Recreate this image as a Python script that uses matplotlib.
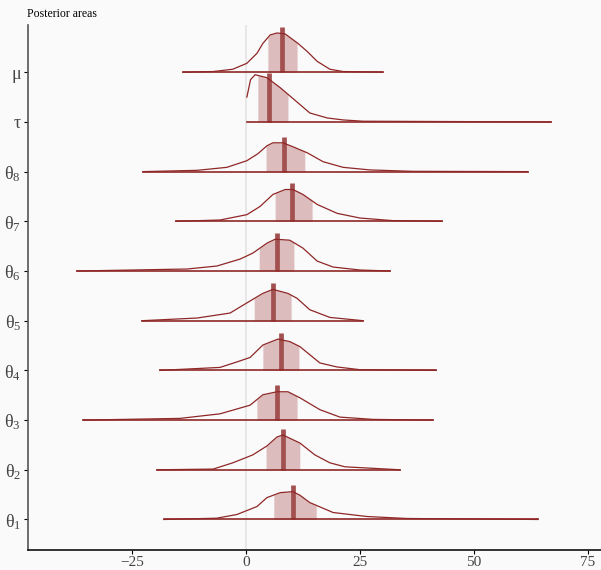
import numpy as np
import matplotlib
matplotlib.use("Agg")
import matplotlib.pyplot as plt

plt.rcParams['font.family'] = ['Liberation Serif', 'DejaVu Serif']
plt.rcParams['mathtext.fontset'] = 'custom'
plt.rcParams['mathtext.rm'] = 'Liberation Serif'
plt.rcParams['mathtext.default'] = 'rm'
plt.rcParams['axes.unicode_minus'] = True

# parameter labels, bottom to top
labels = ['θ$_1$', 'θ$_2$', 'θ$_3$', 'θ$_4$', 'θ$_5$', 'θ$_6$', 'θ$_7$', 'θ$_8$', 'τ', 'μ']

# density curves (x, scaled height)
x_th1 = [-18.0, -6.4, -2.0, 2.4, 4.6, 7.5, 10.3, 11.8, 14.0, 19.1, 26.5, 35.3, 64.0]
d_th1 = [0, 0.026, 0.10, 0.26, 0.44, 0.54, 0.56, 0.49, 0.34, 0.14, 0.06, 0.02, 0]
x_th2 = [-19.5, -7.2, -2.9, 1.5, 4.6, 6.8, 8.1, 11.8, 15.1, 18.4, 21.7, 33.8]
d_th2 = [0, 0.014, 0.14, 0.30, 0.48, 0.66, 0.70, 0.54, 0.30, 0.14, 0.06, 0]
x_th3 = [-35.7, -14.5, -5.7, 0.9, 3.7, 6.8, 9.2, 11.8, 16.2, 20.6, 27.9, 41.0]
d_th3 = [0, 0.034, 0.126, 0.30, 0.51, 0.57, 0.57, 0.45, 0.21, 0.06, 0.014, 0]
x_th4 = [-18.9, -5.7, -2.0, 0.9, 3.7, 7.0, 9.6, 11.8, 16.2, 19.9, 25.0, 41.7]
d_th4 = [0, 0.06, 0.17, 0.26, 0.51, 0.63, 0.58, 0.48, 0.15, 0.07, 0.014, 0]
x_th5 = [-22.8, -10.7, -3.5, 1.5, 3.7, 5.9, 9.2, 11.2, 14.0, 18.4, 25.7]
d_th5 = [0, 0.054, 0.154, 0.43, 0.55, 0.63, 0.55, 0.45, 0.22, 0.066, 0]
x_th6 = [-37.1, -12.9, -6.4, -1.3, 1.5, 4.6, 6.4, 9.6, 12.5, 15.6, 19.1, 25.0, 31.6]
d_th6 = [0, 0.04, 0.10, 0.24, 0.36, 0.56, 0.64, 0.62, 0.46, 0.20, 0.08, 0.02, 0]
x_th7 = [-15.4, -5.7, 0.2, 3.1, 5.9, 8.6, 10.3, 12.5, 15.6, 20.0, 25.0, 32.2, 43.0]
d_th7 = [0, 0.026, 0.134, 0.30, 0.54, 0.64, 0.64, 0.54, 0.34, 0.16, 0.066, 0.014, 0]
x_th8 = [-22.6, -10.7, -4.2, 0.2, 2.6, 4.6, 5.9, 8.1, 10.3, 13.4, 16.9, 21.3, 27.2, 36.6, 61.8]
d_th8 = [0, 0.026, 0.086, 0.22, 0.36, 0.52, 0.58, 0.58, 0.50, 0.38, 0.20, 0.086, 0.034, 0.006, 0]
x_tau = [0.2, 1.0, 2.0, 4.6, 7.5, 11.2, 14.0, 17.8, 21.3, 25.7, 66.9]
d_tau = [0.50, 0.85, 0.95, 0.89, 0.69, 0.40, 0.18, 0.08, 0.04, 0.014, 0]
x_mu = [-13.8, -7.2, -2.9, 0.2, 2.4, 3.7, 5.3, 6.8, 8.6, 11.4, 13.4, 15.6, 18.4, 21.3, 30.0]
d_mu = [0, 0.014, 0.06, 0.18, 0.38, 0.58, 0.75, 0.79, 0.77, 0.58, 0.42, 0.22, 0.06, 0.014, 0]

# inner interval and median
lo = [6.1, 4.4, 2.4, 3.7, 1.8, 2.9, 6.4, 4.4, 2.6, 4.8]
hi = [15.4, 11.8, 11.2, 11.6, 9.9, 10.5, 14.5, 12.9, 9.2, 11.2]
med = [10.3, 8.1, 6.8, 7.7, 5.9, 6.8, 10.1, 8.3, 5.0, 7.8]

xs = [x_th1, x_th2, x_th3, x_th4, x_th5, x_th6, x_th7, x_th8, x_tau, x_mu]
ds = [d_th1, d_th2, d_th3, d_th4, d_th5, d_th6, d_th7, d_th8, d_tau, d_mu]

light = '#DCBCBC'
mid_hl = '#A25050'
dark = '#8F2727'
bg = '#FAFAFA'

fig = plt.figure(figsize=(6.01, 5.70), dpi=100, facecolor=bg)
ax = fig.add_axes([0.0466, 0.0351, 0.9534, 0.921])
ax.set_facecolor(bg)

ax.axvline(0, color='#E6E6E6', lw=1.3, zorder=0)

for i in range(len(labels)):
    y0 = i + 1
    x = np.array(xs[i])
    d = np.array(ds[i])
    # shaded interval
    xf = np.concatenate([[lo[i]], x[(x > lo[i]) & (x < hi[i])], [hi[i]]])
    df = np.interp(xf, x, d)
    ax.fill_between(xf, y0, y0 + df, color=light, lw=0, zorder=1)
    # median
    dm = np.interp(med[i], x, d)
    ax.plot([med[i], med[i]], [y0, y0 + dm + 0.13], color=mid_hl, lw=3.4,
            solid_capstyle='butt', zorder=2)
    # curve and baseline
    ax.plot(x, y0 + d, color=dark, lw=0.9, zorder=3)
    ax.plot([x[0], x[-1]], [y0, y0], color=dark, lw=1.2, zorder=3)

ax.set_xlim(-47.8, 77.85)
ax.set_ylim(0.386, 10.95)
ax.set_xticks([-25, 0, 25, 50, 75])
ax.set_yticks(np.arange(1, 11))
ax.set_yticklabels(labels)
ax.tick_params(axis='x', labelsize=11, length=3, width=0.8, pad=1)
ax.tick_params(axis='y', labelsize=13, length=3, width=0.8, pad=2)
for lab in ax.get_xticklabels() + ax.get_yticklabels():
    lab.set_color('#444444')
for s in ['top', 'right']:
    ax.spines[s].set_visible(False)
ax.spines['left'].set_color('#555555')
ax.spines['left'].set_linewidth(1.2)
ax.spines['bottom'].set_color('#111111')
ax.spines['bottom'].set_linewidth(1.2)

fig.text(27 / 601, 1 - 14 / 570, 'Posterior areas', fontsize=8.5, va='center', ha='left')

fig.savefig('out.png', dpi=100, facecolor=bg)
